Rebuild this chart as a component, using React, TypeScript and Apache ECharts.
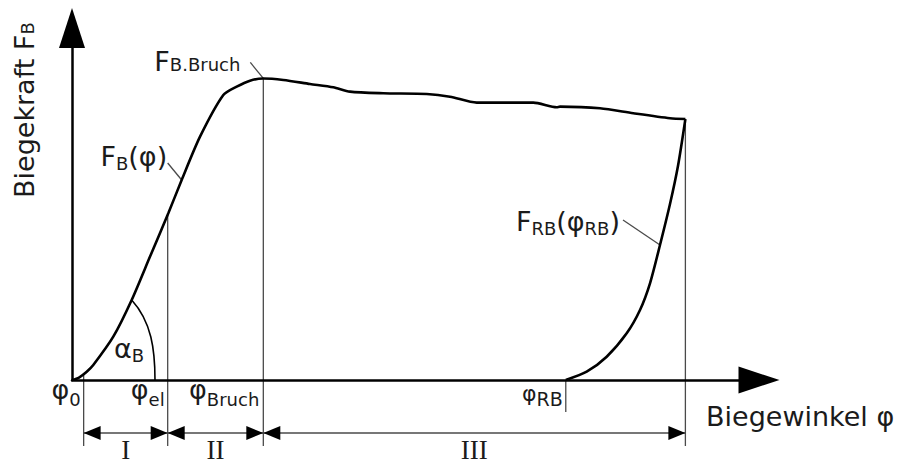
import React, { useEffect, useRef } from "react";
import * as echarts from "echarts";

// Bending test: bending angle φ (x) against bending force F_B (y), relative units
const loadPhi = [0, 1.14, 2.4, 3.47, 6.73, 9.73, 12.72, 15.7, 17.88, 20.87, 24.67, 26.85, 29.02, 31.19, 34.45, 38.8, 42.6, 45.32, 50.75, 57.83, 61.62, 65.98, 75.21, 79.02, 79.56, 86.08, 91.51, 97.49, 100];
const loadForce = [0, 0.82, 2.74, 4.94, 14.27, 26.37, 40.67, 54.94, 65.92, 80.19, 93.93, 96.67, 98.65, 99.37, 98.88, 97.56, 96.47, 95.02, 94.5, 94.26, 93.37, 91.4, 91.4, 89.88, 90.08, 89.55, 87.9, 86.26, 86.03];

// Spring-back curve F_RB(φ_RB)
const springPhi = [80.5, 83.91, 87.17, 90.43, 92.6, 94.23, 95.86, 97.49, 98.79, 100];
const springForce = [0, 2.74, 7.68, 15.39, 23.07, 31.87, 44.5, 58.0, 70.53, 86.03];

// Characteristic angles on the φ axis
const phi0 = 1.9;
const phiEl = 15.6;
const phiBruch = 31.19;
const phiRB = 80.5;
const phiEnd = 100;

// Ranges I, II, III between the characteristic angles
const rangeLabels = ["I", "II", "III"];
const rangeBounds = [phi0, phiEl, phiBruch, phiEnd];

// Angle α_B: from the load curve down to the φ axis
const alphaFromPhi = 9.73;
const alphaToPhi = 13.53;

// Where the callout lines touch the curves
const loadCalloutPhi = 17.88;
const springCalloutPhi = 95.86;

const PHI_MAX = 112;
const FORCE_MAX = 116;

const INK = "#1b1b1b";
const THIN = "#4a4a4a";
const FONT = "DejaVu Sans";
const M = 27;
const S = 18;
const LH = 40;

const interp = (xs: number[], ys: number[], x: number) => {
  for (let i = 1; i < xs.length; i++) {
    if (x <= xs[i]) {
      const t = (x - xs[i - 1]) / (xs[i] - xs[i - 1]);
      return ys[i - 1] + t * (ys[i] - ys[i - 1]);
    }
  }
  return ys[ys.length - 1];
};

const sub = (drop: number, size = S, base = M) => ({
  fontSize: size,
  fontFamily: FONT,
  fill: INK,
  lineHeight: LH,
  padding: [2 * (drop + 0.33 * (base - size)), 0, 0, 0],
});

const rich = {
  m: { fontSize: M, fontFamily: FONT, fill: INK, lineHeight: LH },
  a: sub(0),
  s: sub(4),
  d: sub(7),
  q: { fontSize: 22, fontFamily: FONT, fill: INK, lineHeight: LH },
  r: sub(4, 19, 22),
};

export default function App() {
  const ref = useRef<HTMLDivElement>(null);

  useEffect(() => {
    const el = ref.current;
    if (!el) return;
    const chart = echarts.init(el, null, { renderer: "svg" });

    const axisLine = (size: number[]) => ({
      show: true,
      onZero: false,
      symbol: ["none", "triangle"],
      symbolSize: size,
      lineStyle: { color: "#000", width: 2.5 },
    });

    chart.setOption({
      animation: false,
      grid: { left: 72, right: 145, top: 28, bottom: 84, containLabel: false },
      xAxis: {
        type: "value",
        min: 0,
        max: PHI_MAX,
        axisLine: axisLine([27, 41]),
        axisTick: { show: false },
        axisLabel: { show: false },
        splitLine: { show: false },
      },
      yAxis: {
        type: "value",
        min: 0,
        max: FORCE_MAX,
        axisLine: axisLine([26, 40]),
        axisTick: { show: false },
        axisLabel: { show: false },
        splitLine: { show: false },
      },
      series: [
        {
          name: "F_B(φ)",
          type: "line",
          data: loadPhi.map((x, i) => [x, loadForce[i]]),
          showSymbol: false,
          smooth: 0.25,
          silent: true,
          lineStyle: { color: "#000", width: 2.6 },
          z: 5,
        },
        {
          name: "F_RB(φ_RB)",
          type: "line",
          data: springPhi.map((x, i) => [x, springForce[i]]),
          showSymbol: false,
          smooth: 0.25,
          silent: true,
          lineStyle: { color: "#000", width: 2.6 },
          z: 5,
        },
      ],
    });

    const px = (x: number, y: number) =>
      chart.convertToPixel({ gridIndex: 0 }, [x, y]) as number[];

    const [ox, oy] = px(0, 0);
    const axisEndX = px(PHI_MAX, 0)[0];
    const dimY = oy + 53;
    const tickEnd = oy + 66;
    const thin = { stroke: THIN, lineWidth: 1.3 };

    const seg = (x1: number, y1: number, x2: number, y2: number, style = thin) => ({
      type: "line",
      silent: true,
      shape: { x1, y1, x2, y2 },
      style,
    });

    const text = (x: number, baseline: number, t: string, align: string, base = M) => ({
      type: "text",
      silent: true,
      x,
      y: baseline - 0.33 * base,
      style: { text: t, rich, align, verticalAlign: "middle" },
    });

    const elements: any[] = [];

    // Vertical reference lines from the curve down to the range dimensions
    const xAt = (phi: number) => px(phi, 0)[0];
    [phiEl, phiBruch, phiEnd].forEach((phi) => {
      const [x, y] = px(phi, interp(loadPhi, loadForce, phi));
      elements.push(seg(x, y, x, tickEnd));
    });
    elements.push(seg(xAt(phi0), oy - 5, xAt(phi0), tickEnd));
    elements.push(seg(xAt(phiRB), oy, xAt(phiRB), oy + 32));

    // Range dimensions with arrow heads
    for (let i = 0; i < rangeLabels.length; i++) {
      const xa = xAt(rangeBounds[i]);
      const xb = xAt(rangeBounds[i + 1]);
      elements.push(seg(xa, dimY, xb, dimY));
      elements.push({
        type: "polygon",
        silent: true,
        shape: { points: [[xa, dimY], [xa + 17, dimY - 7], [xa + 17, dimY + 7]] },
        style: { fill: "#000" },
      });
      elements.push({
        type: "polygon",
        silent: true,
        shape: { points: [[xb, dimY], [xb - 17, dimY - 7], [xb - 17, dimY + 7]] },
        style: { fill: "#000" },
      });
      elements.push({
        type: "text",
        silent: true,
        x: (xa + xb) / 2,
        y: dimY + 17,
        style: {
          text: rangeLabels[i],
          fontFamily: "Liberation Serif",
          fontSize: 27,
          fill: INK,
          align: "center",
          verticalAlign: "middle",
        },
      });
    }

    // Angle α_B
    const [a0x, a0y] = px(alphaFromPhi, interp(loadPhi, loadForce, alphaFromPhi));
    const [a3x, a3y] = px(alphaToPhi, 0);
    elements.push({
      type: "bezierCurve",
      silent: true,
      shape: {
        x1: a0x, y1: a0y,
        cpx1: a0x + 20, cpy1: a0y + 22,
        cpx2: a3x, cpy2: a3y - 30,
        x2: a3x, y2: a3y,
      },
      style: { stroke: "#000", lineWidth: 1.6, fill: "none" },
    });
    elements.push(text(ox + 42, oy - 23, "{m|α}{s|B}", "left"));

    // Callouts
    const peak = px(phiBruch, interp(loadPhi, loadForce, phiBruch));
    elements.push(seg(peak[0] - 13, peak[1] - 16, peak[0], peak[1]));
    elements.push(text(peak[0] - 109, peak[1] - 8.5, "{m|F}{a|B.Bruch}", "left"));

    const c1 = px(loadCalloutPhi, interp(loadPhi, loadForce, loadCalloutPhi));
    elements.push(seg(c1[0] - 14, c1[1] - 17, c1[0], c1[1]));
    elements.push(text(c1[0] - 14.5, c1[1] - 15, "{m|F}{s|B}{m|(φ)}", "right"));

    const c2 = px(springCalloutPhi, interp(springPhi, springForce, springCalloutPhi));
    elements.push(seg(c2[0] - 37, c2[1] - 25, c2[0], c2[1]));
    elements.push(text(c2[0] - 40, c2[1] - 15, "{m|F}{s|RB}{m|(φ}{s|RB}{m|)}", "right"));

    // Angle labels under the φ axis
    elements.push(text(xAt(phi0) - 3, oy + 18, "{m|φ}{d|0}", "right"));
    elements.push(text(xAt(phiEl) - 3, oy + 18, "{m|φ}{d|el}", "right"));
    elements.push(text(xAt(phiBruch) - 4, oy + 18, "{m|φ}{d|Bruch}", "right"));
    elements.push(text(xAt(phiRB) - 3, oy + 21, "{q|φ}{r|RB}", "right", 22));

    // Axis titles
    elements.push(text(axisEndX - 53, oy + 45, "{m|Biegewinkel φ}", "left"));
    elements.push({
      type: "text",
      silent: true,
      x: ox - 39 - 0.33 * M,
      y: oy - 182,
      rotation: Math.PI / 2,
      style: { text: "{m|Biegekraft F}{a|B}", rich, align: "left", verticalAlign: "middle" },
    });

    chart.setOption({ graphic: { elements } });

    return () => chart.dispose();
  }, []);

  return (
    <div
      ref={ref}
      style={{ position: "fixed", left: 0, top: 0, width: 904, height: 464, background: "#fff" }}
    />
  );
}
